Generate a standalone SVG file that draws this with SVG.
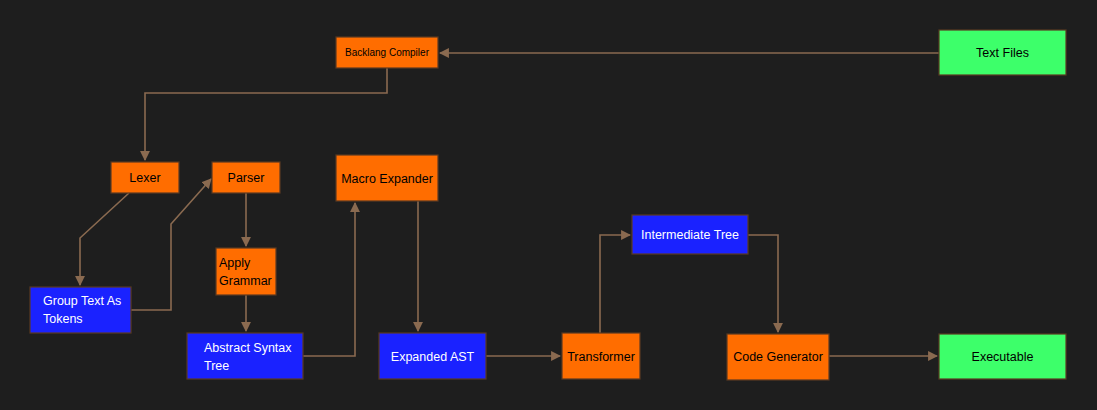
<svg xmlns="http://www.w3.org/2000/svg" width="1097" height="410" viewBox="0 0 1097 410">
<defs>
<style>
.n rect{stroke:#5a3a22;stroke-width:1.2}
.o rect{fill:#ff6d00}
.b rect{fill:#1a22ff}
.g rect{fill:#3dff6a}
text{font-family:"Liberation Sans",Arial,sans-serif;font-size:12.5px;fill:#000}
.b text{fill:#ffffff}
.c path{fill:none;stroke:#8a6a50;stroke-width:1.6}
</style>
<marker id="ah" viewBox="0 0 10 10" refX="9" refY="5" markerWidth="6.2" markerHeight="6.2" orient="auto" markerUnits="strokeWidth">
<path d="M0,0 L10,5 L0,10 z" fill="#8a6a50"/>
</marker>
</defs>
<rect width="1097" height="410" fill="#1e1e1e"/>
<g id="connectors" class="c">
<path d="M939,53 H440" marker-end="url(#ah)"/>
<path d="M387,68 V93 H145 V160" marker-end="url(#ah)"/>
<path d="M129,193 L80,238 V285" marker-end="url(#ah)"/>
<path d="M131,310 H171 V224 L211,179" marker-end="url(#ah)"/>
<path d="M246,193 V246" marker-end="url(#ah)"/>
<path d="M246,295 V331" marker-end="url(#ah)"/>
<path d="M303,356 H355 V203" marker-end="url(#ah)"/>
<path d="M418,201 V331" marker-end="url(#ah)"/>
<path d="M486,356 H560" marker-end="url(#ah)"/>
<path d="M600,333 V235 H630" marker-end="url(#ah)"/>
<path d="M748,235 H778 V332" marker-end="url(#ah)"/>
<path d="M829,356 H937" marker-end="url(#ah)"/>
</g>
<g id="backlang" class="n o"><rect x="336" y="37" width="102" height="31"/><text x="387" y="56" text-anchor="middle" style="font-size:10px">Backlang Compiler</text></g>
<g id="textfiles" class="n g"><rect x="939" y="30" width="127" height="45"/><text x="1002.5" y="57" text-anchor="middle">Text Files</text></g>
<g id="lexer" class="n o"><rect x="111" y="162" width="68" height="31"/><text x="145" y="182" text-anchor="middle">Lexer</text></g>
<g id="parser" class="n o"><rect x="212" y="162" width="68" height="31"/><text x="246" y="182" text-anchor="middle">Parser</text></g>
<g id="macro" class="n o"><rect x="336" y="155" width="102" height="46"/><text x="387" y="183" text-anchor="middle">Macro Expander</text></g>
<g id="grammar" class="n o"><rect x="216" y="248" width="60" height="47"/><text x="219" y="267">Apply</text><text x="219" y="285">Grammar</text></g>
<g id="tokens" class="n b"><rect x="30" y="287" width="101" height="46"/><text x="43" y="305">Group Text As</text><text x="43" y="323">Tokens</text></g>
<g id="ast" class="n b"><rect x="187" y="333" width="116" height="46"/><text x="204" y="352">Abstract Syntax</text><text x="204" y="370">Tree</text></g>
<g id="expanded" class="n b"><rect x="379" y="333" width="107" height="46"/><text x="432.5" y="361" text-anchor="middle">Expanded AST</text></g>
<g id="transformer" class="n o"><rect x="562" y="333" width="78" height="46"/><text x="601" y="361" text-anchor="middle">Transformer</text></g>
<g id="intermediate" class="n b"><rect x="632" y="215" width="116" height="39"/><text x="690" y="239" text-anchor="middle">Intermediate Tree</text></g>
<g id="codegen" class="n o"><rect x="727" y="334" width="102" height="46"/><text x="778" y="361" text-anchor="middle">Code Generator</text></g>
<g id="executable" class="n g"><rect x="939" y="334" width="127" height="45"/><text x="1002.5" y="361" text-anchor="middle">Executable</text></g>
</svg>
